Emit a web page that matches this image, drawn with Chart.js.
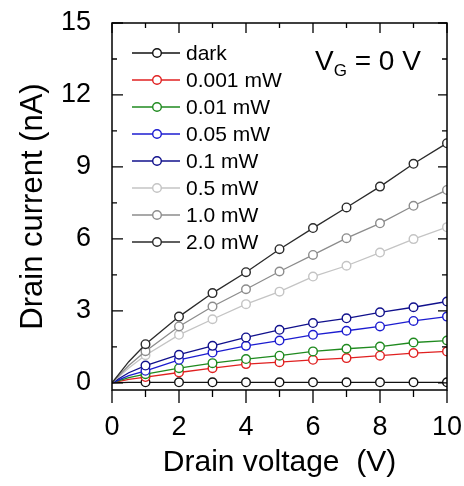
<!DOCTYPE html>
<html>
<head>
<meta charset="utf-8">
<script src="https://cdn.jsdelivr.net/npm/chart.js@4"></script>
<style>
    html, body { margin: 0; padding: 0; background: #fff; }
    #ivChart { display: block; }
</style>
</head>
<body>
<canvas id="ivChart" width="464" height="486"></canvas>
<script>
// drain voltage (V)
const xVals = [0, 0.5, 1, 2, 3, 4, 5, 6, 7, 8, 9, 10];
const xTicks = [0, 2, 4, 6, 8, 10];
const yTicks = [0, 3, 6, 9, 12, 15];

const labels = ['dark', '0.001 mW', '0.01 mW', '0.05 mW', '0.1 mW', '0.5 mW', '1.0 mW', '2.0 mW'];
const colors = ['#111111', '#e02020', '#1f8a1f', '#1c1cd0', '#10108c', '#c4c4c4', '#8c8c8c', '#2a2a2a'];

// drain current (nA)
const dark   = [0, 0.02, 0.02, 0.02, 0.02, 0.02, 0.02, 0.02, 0.02, 0.02, 0.02, 0.02];
const p0001  = [0, 0.14, 0.24, 0.43, 0.61, 0.78, 0.86, 0.96, 1.03, 1.13, 1.24, 1.31];
const p001   = [0, 0.22, 0.36, 0.61, 0.82, 0.99, 1.13, 1.31, 1.42, 1.51, 1.68, 1.76];
const p005   = [0, 0.30, 0.50, 0.96, 1.26, 1.54, 1.76, 2.00, 2.17, 2.35, 2.58, 2.76];
const p01    = [0, 0.42, 0.72, 1.17, 1.54, 1.89, 2.21, 2.49, 2.69, 2.94, 3.15, 3.39];
const p05    = [0, 0.62, 1.15, 2.00, 2.65, 3.28, 3.80, 4.43, 4.88, 5.43, 5.99, 6.49];
const p10    = [0, 0.72, 1.32, 2.35, 3.18, 3.90, 4.64, 5.33, 6.03, 6.65, 7.38, 8.04];
const p20    = [0, 0.88, 1.61, 2.76, 3.74, 4.61, 5.57, 6.45, 7.31, 8.18, 9.13, 9.99];

const series = [dark, p0001, p001, p005, p01, p05, p10, p20];

const FONT = "'Liberation Sans', Arial, sans-serif";

// markers only on whole volts
const radii = xVals.map(x => (x >= 1 && Number.isInteger(x)) ? 4.3 : 0);

const datasets = series.map((vals, i) => ({
    label: labels[i],
    data: vals.map((v, k) => ({ x: xVals[k], y: v })),
    borderColor: colors[i],
    backgroundColor: '#fff',
    borderWidth: 1.3,
    pointRadius: radii,
    pointBorderWidth: 1.4,
    pointBackgroundColor: '#fff',
    pointBorderColor: colors[i],
    tension: 0,
    order: series.length - i
}));

// frame, ticks, legend and V_G label
const decor = {
    id: 'decor',
    afterDraw(chart) {
        const ctx = chart.ctx;
        const xs = chart.scales.x, ys = chart.scales.y;
        const { left, right, top, bottom } = chart.chartArea;
        ctx.save();
        ctx.strokeStyle = '#000';
        ctx.lineWidth = 1.5;
        ctx.strokeRect(left, top, right - left, bottom - top);

        ctx.lineWidth = 1.3;
        ctx.beginPath();
        for (let v = 0; v <= 10; v++) {
            const px = xs.getPixelForValue(v);
            const major = v % 2 === 0;
            ctx.moveTo(px, bottom);
            ctx.lineTo(px, bottom + (major ? 13 : 7));
            ctx.moveTo(px, top);
            ctx.lineTo(px, top + (major ? 10 : 5));
        }
        for (let v = 0; v <= 15; v += 1.5) {
            const py = ys.getPixelForValue(v);
            const major = v % 3 === 0;
            ctx.moveTo(left, py);
            ctx.lineTo(left + (major ? 11 : 5), py);
            ctx.moveTo(right, py);
            ctx.lineTo(right - (major ? 9 : 5), py);
        }
        ctx.stroke();

        // legend
        ctx.font = '21px ' + FONT;
        ctx.textBaseline = 'middle';
        ctx.textAlign = 'left';
        labels.forEach((lab, i) => {
            const y = 53 + i * 27;
            ctx.strokeStyle = colors[i];
            ctx.lineWidth = 1.3;
            ctx.beginPath();
            ctx.moveTo(132, y);
            ctx.lineTo(180, y);
            ctx.stroke();
            ctx.beginPath();
            ctx.arc(157, y, 4.3, 0, Math.PI * 2);
            ctx.fillStyle = '#fff';
            ctx.fill();
            ctx.lineWidth = 1.4;
            ctx.stroke();
            ctx.fillStyle = '#000';
            ctx.fillText(lab, 186, y + 1);
        });

        // V_G = 0 V
        ctx.fillStyle = '#000';
        ctx.textBaseline = 'alphabetic';
        ctx.font = '28px ' + FONT;
        ctx.fillText('V', 315, 70);
        let x = 315 + ctx.measureText('V').width;
        ctx.font = '17px ' + FONT;
        ctx.fillText('G', x, 76);
        x += ctx.measureText('G').width;
        ctx.font = '28px ' + FONT;
        ctx.fillText(' = 0 V', x, 70);
        ctx.restore();
    }
};

const ctx = document.getElementById('ivChart').getContext('2d');
new Chart(ctx, {
    type: 'line',
    data: { datasets },
    options: {
        responsive: false,
        animation: false,
        layout: { padding: { top: 23, right: 17, left: 0, bottom: 0 } },
        plugins: {
            legend: { display: false },
            tooltip: { enabled: false }
        },
        scales: {
            x: {
                type: 'linear',
                min: 0,
                max: 10,
                afterFit: s => { s.height = 96; s.paddingLeft = 0; s.paddingRight = 0; },
                afterBuildTicks: s => { s.ticks = xTicks.map(v => ({ value: v })); },
                grid: { display: false, drawTicks: false },
                border: { display: false },
                ticks: {
                    color: '#000',
                    padding: 21,
                    maxRotation: 0,
                    font: { family: FONT, size: 27 }
                },
                title: {
                    display: true,
                    text: 'Drain voltage  (V)',
                    color: '#000',
                    font: { family: FONT, size: 30 },
                    padding: { top: 0, bottom: 5 }
                }
            },
            y: {
                type: 'linear',
                min: -0.3,
                max: 15,
                afterFit: s => { s.width = 112; s.paddingTop = 0; s.paddingBottom = 0; },
                afterBuildTicks: s => { s.ticks = yTicks.map(v => ({ value: v })); },
                grid: { display: false, drawTicks: false },
                border: { display: false },
                ticks: {
                    color: '#000',
                    padding: 21,
                    font: { family: FONT, size: 27 }
                },
                title: {
                    display: true,
                    text: 'Drain current (nA)',
                    color: '#000',
                    font: { family: FONT, size: 31 },
                    padding: { top: 15, bottom: 0 }
                }
            }
        }
    },
    plugins: [decor]
});
</script>
</body>
</html>
